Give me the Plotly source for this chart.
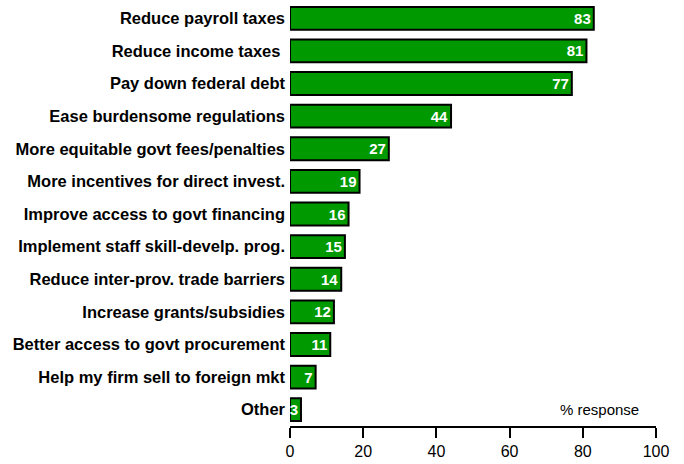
import plotly.graph_objects as go

# Survey: measures respondents want from government (% response)
categories = [
    "Reduce payroll taxes",
    "Reduce income taxes\u00a0",
    "Pay down federal debt",
    "Ease burdensome regulations",
    "More equitable govt fees/penalties",
    "More incentives for direct invest.",
    "Improve access to govt financing",
    "Implement staff skill-develp. prog.",
    "Reduce inter-prov. trade barriers",
    "Increase grants/subsidies",
    "Better access to govt procurement",
    "Help my firm sell to foreign mkt",
    "Other",
]
values = [83, 81, 77, 44, 27, 19, 16, 15, 14, 12, 11, 7, 3]
x_ticks = [0, 20, 40, 60, 80, 100]

fig = go.Figure(
    go.Bar(
        x=values,
        y=categories,
        orientation="h",
        marker=dict(color="#009900", line=dict(color="black", width=2)),
        text=[str(v) for v in values],
        textposition="inside",
        insidetextanchor="end",
        textangle=0,
        constraintext="none",
        textfont=dict(family="Liberation Sans, Arial, sans-serif", size=15,
                      color="white", weight="bold"),
        hoverinfo="skip",
    )
)

fig.update_layout(
    width=684,
    height=464,
    margin=dict(l=290, r=28, t=2, b=38),
    paper_bgcolor="white",
    plot_bgcolor="white",
    bargap=0.3,
    showlegend=False,
    font=dict(family="Liberation Sans, Arial, sans-serif", color="black"),
    xaxis=dict(
        range=[0, 100],
        tickvals=x_ticks,
        ticktext=[str(t) for t in x_ticks],
        showgrid=False,
        zeroline=False,
        showline=True,
        linecolor="black",
        linewidth=2,
        ticks="outside",
        ticklen=10,
        tickwidth=2,
        tickcolor="black",
        tickfont=dict(size=16),
        fixedrange=True,
    ),
    yaxis=dict(
        categoryorder="array",
        categoryarray=categories,
        autorange="reversed",
        showgrid=False,
        zeroline=False,
        showline=False,
        ticks="",
        ticklabelstandoff=4,
        tickfont=dict(size=16.5, weight="bold"),
        fixedrange=True,
    ),
    annotations=[
        dict(
            text="% response",
            x=84.5,
            y="Other",
            xref="x",
            yref="y",
            showarrow=False,
            font=dict(size=15),
        )
    ],
)

fig.write_html("out.html")
